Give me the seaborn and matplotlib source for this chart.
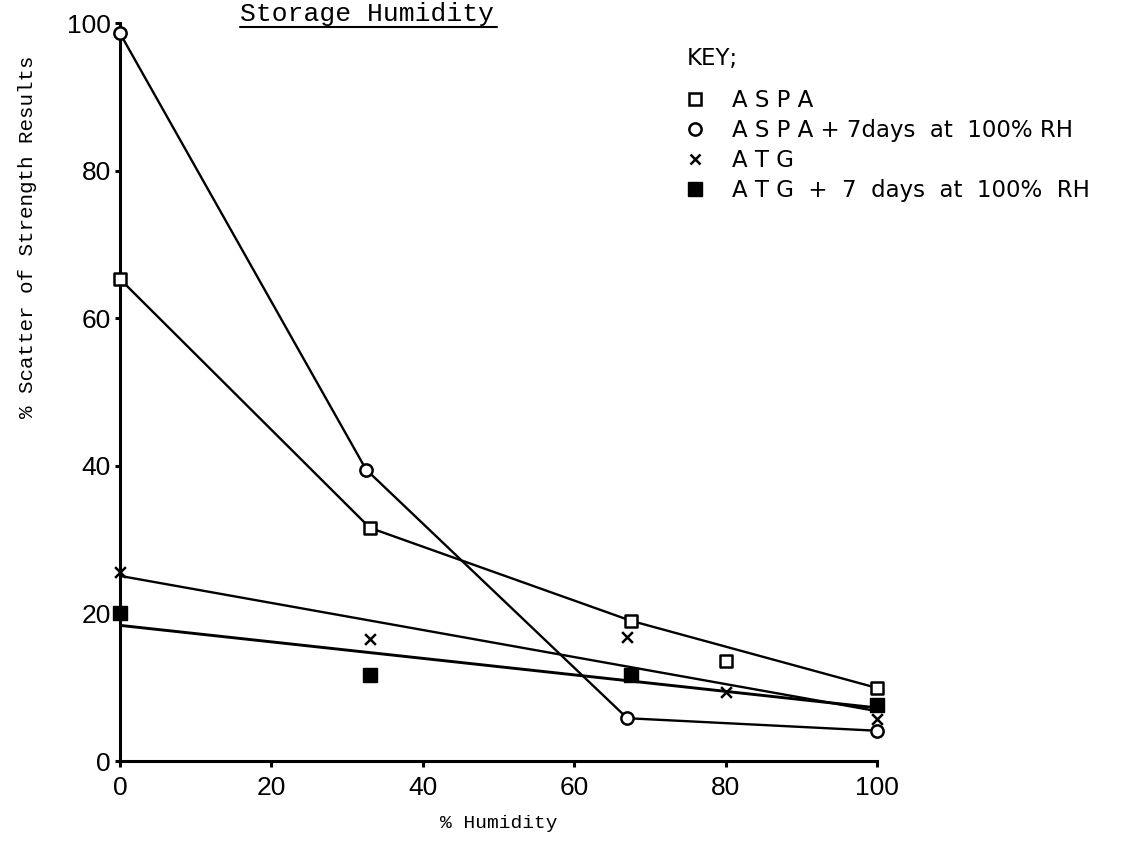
import matplotlib
matplotlib.use("Agg")
import matplotlib.pyplot as plt
from matplotlib.lines import Line2D
import pandas as pd
import seaborn as sns

# ASPA as stored (the 80 % reading is plotted but not joined)
aspa_rh = [0, 33, 67.5, 80, 100]
aspa_scatter = [65.3, 31.6, 19.0, 13.5, 9.9]
aspa_joined = [True, True, True, False, True]

# ASPA + 7 days at 100 % RH
aspa7_rh = [0, 32.5, 67, 100]
aspa7_scatter = [98.6, 39.5, 5.8, 4.1]

# ATG (fitted straight line)
atg_rh = [0, 33, 67, 80, 100]
atg_scatter = [25.6, 16.6, 16.8, 9.4, 5.7]

# ATG + 7 days at 100 % RH (fitted straight line)
atg7_rh = [0, 33, 67.5, 100]
atg7_scatter = [20.1, 11.7, 11.7, 7.6]

key_labels = [
    "A S P A",
    "A S P A + 7days  at  100% RH",
    "A T G",
    "A T G  +  7  days  at  100%  RH",
]
x_ticks = [0, 20, 40, 60, 80, 100]
y_ticks = [0, 20, 40, 60, 80, 100]

sns.set_theme(style="ticks", rc={
    "axes.edgecolor": "black", "text.color": "black",
    "xtick.color": "black", "ytick.color": "black",
    "axes.labelcolor": "black",
})
plt.rcParams["font.family"] = ["DejaVu Sans"]

fig = plt.figure(figsize=(11.25, 8.5), dpi=100)
ax = fig.add_axes([0.1067, 0.1047, 0.6729, 0.8682])

LW = 1.7

aspa = pd.DataFrame({"rh": aspa_rh, "scatter": aspa_scatter, "joined": aspa_joined})
sns.lineplot(data=aspa[aspa["joined"]], x="rh", y="scatter", color="black",
             lw=LW, ax=ax, zorder=2)
sns.lineplot(x=aspa7_rh, y=aspa7_scatter, color="black", lw=LW, ax=ax, zorder=2)

sns.regplot(x=atg_rh, y=atg_scatter, ci=None, marker="x", color="black", ax=ax,
            scatter_kws=dict(s=60, linewidths=1.8, alpha=1, zorder=4, clip_on=False),
            line_kws=dict(lw=LW, zorder=2))
sns.regplot(x=atg7_rh, y=atg7_scatter, ci=None, marker="s", color="black", ax=ax,
            scatter_kws=dict(s=105, alpha=1, zorder=4, clip_on=False),
            line_kws=dict(lw=2.1, zorder=2))

sns.scatterplot(x=aspa_rh, y=aspa_scatter, marker="s", s=78, facecolor="white",
                edgecolor="black", linewidth=1.8, zorder=5, clip_on=False, ax=ax)
sns.scatterplot(x=aspa7_rh, y=aspa7_scatter, marker="o", s=78, facecolor="white",
                edgecolor="black", linewidth=1.8, zorder=5, clip_on=False, ax=ax)

ax.set_xlim(0, 100)
ax.set_ylim(0, 100)
ax.set_xticks(x_ticks)
ax.set_yticks(y_ticks)
sns.despine(ax=ax)
for side in ("left", "bottom"):
    ax.spines[side].set_linewidth(2.2)
ax.tick_params(axis="y", direction="out", length=3.5, width=2.2, pad=3, labelsize=19)
ax.tick_params(axis="x", direction="out", length=4.5, width=2.2, pad=6, labelsize=19)
for lab in ax.get_xticklabels() + ax.get_yticklabels():
    lab.set_family("Liberation Sans")

ax.set_xlabel("% Humidity", family="Liberation Mono", fontsize=14)
ax.xaxis.set_label_coords(0.5, -0.073)
ax.set_ylabel("% Scatter of Strength Results", family="Liberation Mono", fontsize=15)
ax.yaxis.set_label_coords(-0.1096, 0.711)

# Underlined title along the top edge
fig.text(240 / 1125, 1 - 21 / 850, "Storage Humidity", family="Liberation Mono",
         fontsize=19, ha="left", va="baseline")
fig.add_artist(Line2D([240 / 1125, 497 / 1125], [1 - 27 / 850, 1 - 27 / 850],
                      color="black", lw=1.5, transform=fig.transFigure))

# Key
fig.text(687 / 1125, 1 - 58 / 850, "KEY;", fontsize=16.5, ha="left", va="center")
handles = [
    Line2D([], [], ls="none", marker="s", ms=8.8, mfc="white", mec="black", mew=1.8),
    Line2D([], [], ls="none", marker="o", ms=8.8, mfc="white", mec="black", mew=1.8),
    Line2D([], [], ls="none", marker="x", ms=7.7, mec="black", mew=1.8),
    Line2D([], [], ls="none", marker="s", ms=10.2, mfc="black", mec="black"),
]
fig.legend(handles, key_labels, loc="upper left",
           bbox_to_anchor=(684 / 1125, 1 - 89 / 850), bbox_transform=fig.transFigure,
           frameon=False, fontsize=16.5, borderpad=0, borderaxespad=0,
           handlelength=1.0, handletextpad=1.1, labelspacing=0.3)

fig.savefig("out.png", dpi=100, facecolor="white")
